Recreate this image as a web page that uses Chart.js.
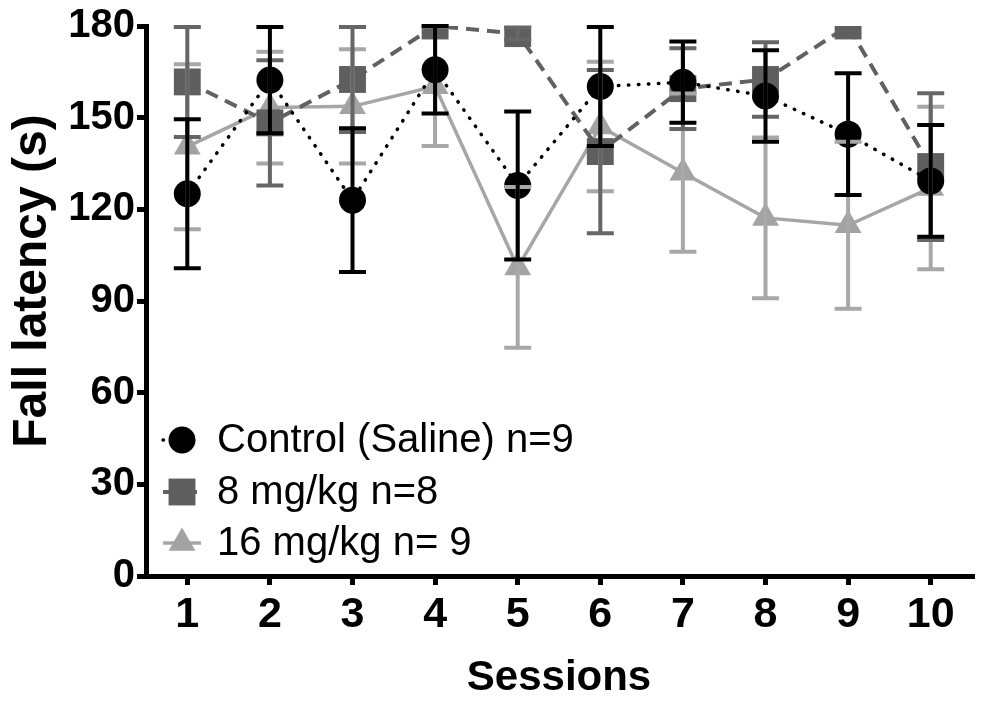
<!DOCTYPE html>
<html>
<head>
<meta charset="utf-8">
<script src="https://cdn.jsdelivr.net/npm/chart.js@4.4.1/dist/chart.umd.min.js"></script>
<style>
html,body{margin:0;padding:0;background:#fff;}
#wrap{width:982px;height:704px;position:relative;}
</style>
</head>
<body>
<div id="wrap"><canvas id="c" width="982" height="704"></canvas></div>
<script>
// ---- data ----
const sessions = ['1','2','3','4','5','6','7','8','9','10'];
const yTickValues = [0, 30, 60, 90, 120, 150, 180];
const seriesLabels = ['Control (Saline) n=9', '8 mg/kg n=8', '16 mg/kg n= 9'];
const yTitle = 'Fall latency (s)';
const xTitle = 'Sessions';

const controlMean = [125.1, 162.3, 123.0, 165.7, 127.8, 160.2, 161.6, 157.1, 144.6, 129.3];
const controlSem  = [24.4, 17.4, 23.5, 14.3, 24.2, 19.5, 13.3, 15.0, 19.9, 18.3];

const mg8Mean = [161.7, 148.3, 162.5, 180.0, 177.5, 138.9, 159.5, 162.5, 180.0, 134.0];
const mg8Sem  = [18.0, 20.5, 17.2, 0, 2.0, 26.7, 13.2, 12.2, 0, 24.0];

const mg16Mean = [140.5, 153.3, 153.7, 160.3, 101.0, 147.1, 132.0, 117.2, 114.8, 127.0];
const mg16Sem  = [27.0, 18.3, 18.7, 19.6, 26.3, 21.2, 25.9, 26.3, 27.3, 26.6];

const FONT = '"Liberation Sans", Arial, Helvetica, sans-serif';

// large markers should not shrink the plot area (layout is fixed by axes/padding)
Chart.registry.getController('line').prototype.getMaxOverflow = function () { return 0; };

// ---- plugins ----
const errorBarPlugin = {
  id: 'errorBars',
  afterDatasetsDraw(chart) {
    const ctx = chart.ctx;
    const ys = chart.scales.y;
    [2, 1, 0].forEach(i => {
      const ds = chart.data.datasets[i];
      const meta = chart.getDatasetMeta(i);
      ctx.save();
      ctx.strokeStyle = ds.errorColor;
      ctx.lineWidth = ds.errorWidth;
      ctx.lineCap = 'butt';
      ctx.setLineDash([]);
      meta.data.forEach((pt, j) => {
        const v = ds.data[j], e = ds.errors[j];
        if (!e) return;
        const yt = ys.getPixelForValue(v + e);
        const yb = ys.getPixelForValue(v - e);
        const hw = ds.capHalfWidth;
        ctx.beginPath();
        ctx.moveTo(pt.x, yt); ctx.lineTo(pt.x, yb);
        ctx.moveTo(pt.x - hw, yt); ctx.lineTo(pt.x + hw, yt);
        ctx.moveTo(pt.x - hw, yb); ctx.lineTo(pt.x + hw, yb);
        ctx.stroke();
      });
      ctx.restore();
    });
  }
};

const legendPlugin = {
  id: 'insideLegend',
  afterDraw(chart) {
    const ctx = chart.ctx;
    const rowY = [440, 492, 543];
    chart.data.datasets.forEach((ds, i) => {
      const y = rowY[i];
      ctx.save();
      ctx.strokeStyle = ds.borderColor;
      ctx.lineWidth = ds.borderWidth;
      ctx.lineCap = ds.borderCapStyle || 'butt';
      ctx.setLineDash(ds.borderDash || []);
      ctx.beginPath();
      ctx.moveTo(163, y); ctx.lineTo(201, y);
      ctx.stroke();
      ctx.setLineDash([]);
      ctx.fillStyle = ds.pointBackgroundColor;
      Chart.helpers.drawPoint(ctx, {pointStyle: ds.pointStyle, radius: ds.pointRadius, borderWidth: 0, rotation: 0}, 182, y);
      ctx.fillStyle = '#000';
      ctx.font = '40px ' + FONT;
      ctx.textAlign = 'left';
      ctx.textBaseline = 'middle';
      ctx.fillText(ds.label, 217, y + 1);
      ctx.restore();
    });
    // y axis title
    ctx.save();
    ctx.translate(33, 281);
    ctx.rotate(-Math.PI / 2);
    ctx.fillStyle = '#000';
    ctx.font = 'bold 48px ' + FONT;
    ctx.textAlign = 'center';
    ctx.textBaseline = 'middle';
    ctx.fillText(yTitle, 0, 0);
    ctx.restore();
  }
};

new Chart(document.getElementById('c'), {
  type: 'line',
  data: {
    labels: sessions,
    datasets: [
      {
        label: seriesLabels[0], data: controlMean, errors: controlSem,
        borderColor: '#000000', borderWidth: 3.5, borderDash: [0.5, 9.5], borderCapStyle: 'round',
        pointStyle: 'circle', pointRadius: 13.5, pointBackgroundColor: '#000000', pointBorderWidth: 0,
        errorColor: '#000000', errorWidth: 4, capHalfWidth: 13.5, order: 1, tension: 0
      },
      {
        label: seriesLabels[1], data: mg8Mean, errors: mg8Sem,
        borderColor: '#616161', borderWidth: 4, borderDash: [13, 8],
        pointStyle: 'rect', pointRadius: 19, pointBackgroundColor: '#5f5f5f', pointBorderWidth: 0,
        errorColor: '#666666', errorWidth: 4, capHalfWidth: 13.5, order: 2, tension: 0
      },
      {
        label: seriesLabels[2], data: mg16Mean, errors: mg16Sem,
        borderColor: '#a6a6a6', borderWidth: 3.5,
        pointStyle: 'triangle', pointRadius: 15.5, pointBackgroundColor: '#a3a3a3', pointBorderWidth: 0,
        errorColor: '#a8a8a8', errorWidth: 4, capHalfWidth: 13.5, order: 3, tension: 0
      }
    ]
  },
  options: {
    responsive: false,
    animation: false,
    devicePixelRatio: 1,
    layout: { padding: { left: 0, top: 26, right: 10, bottom: 0 } },
    plugins: { legend: { display: false }, tooltip: { enabled: false } },
    elements: { point: { hoverRadius: 13.5 } },
    scales: {
      x: {
        type: 'category',
        offset: true,
        border: { display: true, color: '#000', width: 5 },
        grid: { display: true, drawOnChartArea: false, drawTicks: true, tickLength: 9, lineWidth: 5, color: '#000', offset: false },
        ticks: { color: '#000', font: { family: FONT, size: 43, weight: 'bold' }, padding: 4, maxRotation: 0, autoSkip: false },
        title: { display: true, text: xTitle, color: '#000', font: { family: FONT, size: 42, weight: 'bold' }, padding: { top: 0, bottom: 0 } },
        afterFit(scale) { scale.height = 128; }
      },
      y: {
        min: 0, max: 180,
        afterBuildTicks(scale) { scale.ticks = yTickValues.map(v => ({ value: v })); },
        border: { display: true, color: '#000', width: 5 },
        grid: { display: true, drawOnChartArea: false, drawTicks: true, tickLength: 9, lineWidth: 5, color: '#000' },
        ticks: { color: '#000', font: { family: FONT, size: 40, weight: 'bold' }, padding: 2 },
        title: { display: false },
        afterFit(scale) { scale.width = 146; }
      }
    }
  },
  plugins: [errorBarPlugin, legendPlugin]
});
</script>
</body>
</html>
